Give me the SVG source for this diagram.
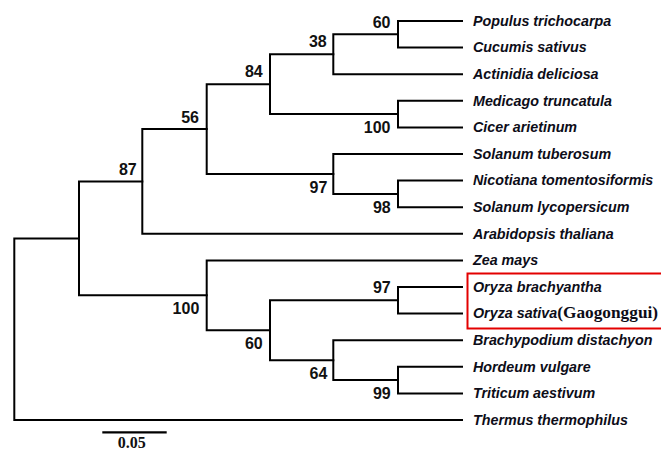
<svg xmlns="http://www.w3.org/2000/svg" width="661" height="450" viewBox="0 0 661 450">
<style>
.br{fill:none;stroke:#000;stroke-width:2;stroke-linejoin:miter;stroke-linecap:square}
.leaf{font-family:"Liberation Sans",Arial,sans-serif;font-size:14.3px;font-weight:bold;font-style:italic;fill:#0d0d18}
.bs{font-family:"Liberation Sans",Arial,sans-serif;font-size:16px;font-weight:bold;fill:#111;text-anchor:end}
.gg{font-family:"Liberation Serif","Times New Roman",serif;font-size:17.3px;font-weight:bold;font-style:normal}
.sc{font-family:"Liberation Serif","Times New Roman",serif;font-size:16px;font-weight:bold;fill:#111;text-anchor:middle}
</style>
<rect width="661" height="450" fill="#fff"/>
<g id="connectors">
<path class="br" d="M462 21 H398 V47.6 H462"/>
<path class="br" d="M398 34.3 H333.3 V74.2 H462"/>
<path class="br" d="M462 100.8 H398 V127.4 H462"/>
<path class="br" d="M333.3 54.25 H270 V114.1 H398"/>
<path class="br" d="M462 180.6 H398 V207.2 H462"/>
<path class="br" d="M462 154 H333.3 V193.9 H398"/>
<path class="br" d="M270 84.18 H206.7 V173.95 H333.3"/>
<path class="br" d="M206.7 129.06 H142.3 V233.8 H462"/>
<path class="br" d="M462 287 H398 V313.6 H462"/>
<path class="br" d="M462 366.8 H398 V393.4 H462"/>
<path class="br" d="M462 340.2 H333.3 V380.1 H398"/>
<path class="br" d="M398 300.3 H270 V360.15 H333.3"/>
<path class="br" d="M462 260.4 H206.7 V330.23 H270"/>
<path class="br" d="M142.3 181.43 H79 V295.3 H206.7"/>
<path class="br" d="M79 238.4 H14.3 V420 H462"/>
</g>
<g id="internal-nodes">
<g id="n60a"><text class="bs" x="390.5" y="27.5">60</text></g>
<g id="n38"><text class="bs" x="326.7" y="46.7">38</text></g>
<g id="n84"><text class="bs" x="262.7" y="77.3">84</text></g>
<g id="n100a"><text class="bs" x="390.5" y="132.7">100</text></g>
<g id="n56"><text class="bs" x="199" y="122.5">56</text></g>
<g id="n87"><text class="bs" x="136.7" y="175">87</text></g>
<g id="n97a"><text class="bs" x="327.3" y="193.3">97</text></g>
<g id="n98"><text class="bs" x="390.7" y="212.7">98</text></g>
<g id="n97b"><text class="bs" x="390.7" y="293.3">97</text></g>
<g id="n100b"><text class="bs" x="199.3" y="314">100</text></g>
<g id="n60b"><text class="bs" x="262.7" y="349">60</text></g>
<g id="n64"><text class="bs" x="327.3" y="379.3">64</text></g>
<g id="n99"><text class="bs" x="390.7" y="399">99</text></g>
</g>
<g id="leaves">
<g id="populus"><text class="leaf" x="473" y="25.7">Populus trichocarpa</text></g>
<g id="cucumis"><text class="leaf" x="473" y="52.3">Cucumis sativus</text></g>
<g id="actinidia"><text class="leaf" x="473" y="78.9">Actinidia deliciosa</text></g>
<g id="medicago"><text class="leaf" x="473" y="105.5">Medicago truncatula</text></g>
<g id="cicer"><text class="leaf" x="473" y="132.1">Cicer arietinum</text></g>
<g id="solanum-tub"><text class="leaf" x="473" y="158.7">Solanum tuberosum</text></g>
<g id="nicotiana"><text class="leaf" x="473" y="185.3">Nicotiana tomentosiformis</text></g>
<g id="solanum-lyc"><text class="leaf" x="473" y="211.9">Solanum lycopersicum</text></g>
<g id="arabidopsis"><text class="leaf" x="473" y="238.5">Arabidopsis thaliana</text></g>
<g id="zea"><text class="leaf" x="473" y="265.1">Zea mays</text></g>
<g id="oryza-b"><text class="leaf" x="473" y="291.7">Oryza brachyantha</text></g>
<g id="oryza-s"><text class="leaf" x="473" y="318.3">Oryza sativa<tspan class="gg">(Gaogonggui)</tspan></text></g>
<g id="brachypodium"><text class="leaf" x="473" y="344.9">Brachypodium distachyon</text></g>
<g id="hordeum"><text class="leaf" x="473" y="371.5">Hordeum vulgare</text></g>
<g id="triticum"><text class="leaf" x="473" y="398.1">Triticum aestivum</text></g>
<g id="thermus"><text class="leaf" x="473" y="424.7">Thermus thermophilus</text></g>
</g>
<rect id="highlight" x="467.5" y="273.5" width="200" height="55" fill="none" stroke="#e30000" stroke-width="2"/>
<g id="scale">
<line x1="102.3" y1="432.3" x2="166.7" y2="432.3" stroke="#000" stroke-width="2.2"/>
<text class="sc" x="131.7" y="447.5">0.05</text>
</g>
</svg>
